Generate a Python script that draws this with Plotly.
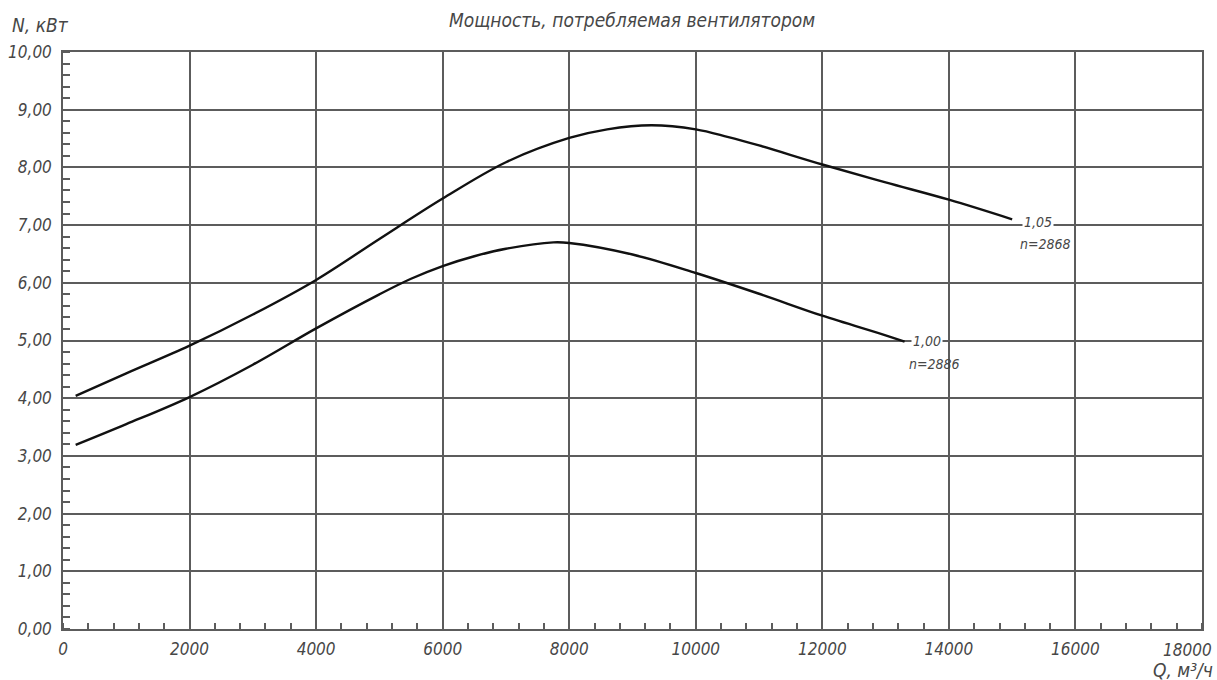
import plotly.graph_objects as go

# --- data ---
q_105 = [200, 1000, 2000, 3000, 4000, 5000, 6000, 7000, 8000, 8600, 9300, 10000, 10500, 11000, 12000, 13000, 14000, 15000]
n_105 = [4.04, 4.43, 4.91, 5.45, 6.05, 6.76, 7.46, 8.09, 8.51, 8.66, 8.73, 8.66, 8.53, 8.38, 8.05, 7.74, 7.44, 7.10]

q_100 = [200, 1000, 2000, 3000, 4000, 5000, 5500, 6000, 6500, 7000, 7750, 8000, 9000, 10000, 11000, 12000, 13000, 13300]
n_100 = [3.19, 3.55, 4.02, 4.58, 5.21, 5.80, 6.07, 6.29, 6.46, 6.59, 6.70, 6.69, 6.49, 6.17, 5.81, 5.43, 5.09, 4.98]

x_ticks = [0, 2000, 4000, 6000, 8000, 10000, 12000, 14000, 16000, 18000]
x_tick_labels = ["0", "2000", "4000", "6000", "8000", "10000", "12000", "14000", "16000", "18000"]
y_ticks = [0, 1, 2, 3, 4, 5, 6, 7, 8, 9, 10]
y_tick_labels = ["0,00", "1,00", "2,00", "3,00", "4,00", "5,00", "6,00", "7,00", "8,00", "9,00", "10,00"]

curve_labels = [("1,05", "n=2868"), ("1,00", "n=2886")]
label_pos = [(15150, 7.05, 6.68), (13400, 5.0, 4.6)]

title_text = "Мощность, потребляемая вентилятором"
y_title = "N, кВт"
x_title = "Q, м³/ч"

FONT = "Liberation Sans Narrow, DejaVu Sans Condensed, Arial Narrow, DejaVu Sans, sans-serif"
TXT = "#474747"
GRID = "#5c5c5c"

fig = go.Figure()
for q, n in [(q_105, n_105), (q_100, n_100)]:
    fig.add_trace(go.Scatter(x=q, y=n, mode="lines",
                             line=dict(color="#111111", width=2.4, shape="spline", smoothing=1.0),
                             showlegend=False, hoverinfo="skip"))

W, H = 1217, 680
L, R, T, B = 63, 15, 52, 51
pw, ph = W - L - R, H - T - B

def px_x(px):
    return (px - L) / pw

def px_y(py):
    return (H - B - py) / ph

annotations = []
for (l1, l2), (qx, y1, y2) in zip(curve_labels, label_pos):
    annotations.append(dict(x=qx, y=y1, xref="x", yref="y", text=l1, showarrow=False,
                            xanchor="left", yanchor="middle", bgcolor="white", borderpad=1,
                            font=dict(family=FONT, size=14, color=TXT, style="italic")))
    annotations.append(dict(x=qx - 60, y=y2, xref="x", yref="y", text=l2, showarrow=False,
                            xanchor="left", yanchor="middle",
                            font=dict(family=FONT, size=14, color=TXT, style="italic")))

annotations.append(dict(x=px_x(10), y=px_y(25), xref="paper", yref="paper", text=y_title,
                        showarrow=False, xanchor="left", yanchor="middle",
                        font=dict(family=FONT, size=19, color=TXT, style="italic")))
annotations.append(dict(x=px_x(1215), y=px_y(670), xref="paper", yref="paper", text=x_title,
                        showarrow=False, xanchor="right", yanchor="middle",
                        font=dict(family=FONT, size=19, color=TXT, style="italic")))
annotations.append(dict(x=px_x(1187), y=px_y(650), xref="paper", yref="paper", text=x_tick_labels[-1],
                        showarrow=False, xanchor="center", yanchor="middle",
                        font=dict(family=FONT, size=17, color=TXT, style="italic")))
annotations.append(dict(x=px_x(632), y=px_y(20), xref="paper", yref="paper", text=title_text,
                        showarrow=False, xanchor="center", yanchor="middle",
                        font=dict(family=FONT, size=19, color=TXT, style="italic")))

fig.update_layout(
    width=W, height=H,
    margin=dict(l=L, r=R, t=T, b=B, pad=0),
    paper_bgcolor="white", plot_bgcolor="white",
    annotations=annotations,
    showlegend=False,
)
fig.update_xaxes(range=[0, 18000], tickvals=x_ticks, ticktext=x_tick_labels[:-1] + [""],
                 automargin=False,
                 showgrid=True, gridcolor=GRID, gridwidth=1.5,
                 showline=True, linecolor=GRID, linewidth=1.5, mirror=True,
                 zeroline=False, ticks="", ticklabelstandoff=4,
                 tickfont=dict(family=FONT, size=17, color=TXT, style="italic"),
                 minor=dict(dtick=400, ticks="inside", ticklen=6, tickcolor=GRID, tickwidth=1.5, showgrid=False))
fig.update_yaxes(range=[0, 10], tickvals=y_ticks, ticktext=y_tick_labels,
                 automargin=False,
                 showgrid=True, gridcolor=GRID, gridwidth=1.5,
                 showline=True, linecolor=GRID, linewidth=1.5, mirror=True,
                 zeroline=False, ticks="", ticklabelstandoff=6,
                 tickfont=dict(family=FONT, size=17, color=TXT, style="italic"),
                 minor=dict(dtick=0.2, ticks="inside", ticklen=7, tickcolor=GRID, tickwidth=1.5, showgrid=False))

fig.write_html("out.html")
